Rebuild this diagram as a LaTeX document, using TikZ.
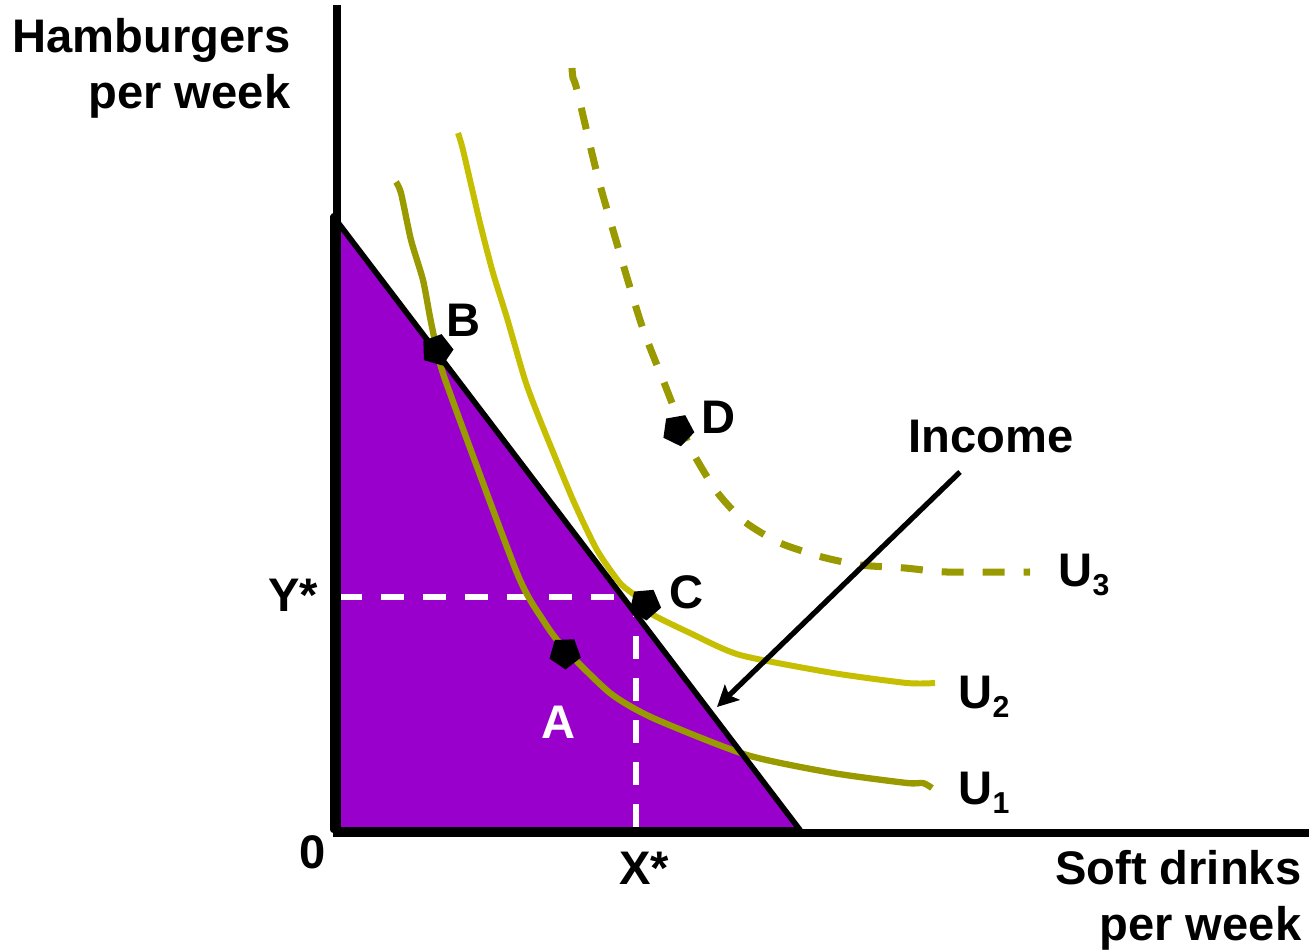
\documentclass[tikz,border=0pt]{standalone}
\usepackage{fontspec}
\setmainfont{Liberation Sans}
\usetikzlibrary{shapes.geometric,arrows.meta}
\definecolor{budgetPurple}{RGB}{153,0,204}
\definecolor{curveOlive}{RGB}{153,153,0}
\definecolor{curveYellow}{RGB}{198,190,0}
\newcommand{\ulab}[1]{U\raisebox{-2.7pt}{\fontsize{8.6}{10}\selectfont #1}}
\begin{document}
\begin{tikzpicture}[x=0.01cm, y=-0.01cm, line join=round, every node/.style={font=\bfseries\fontsize{13.4}{16}\selectfont, inner sep=0pt}, bundlept/.style={regular polygon, regular polygon sides=5, fill=black, minimum size=0.33cm, inner sep=0pt}, whitedash/.style={white, line width=1.5pt, dash pattern=on 0.23cm off 0.19cm}]

	\useasboundingbox (0,0) rectangle (1309,951);

	% budget set
	\coordinate (bTop) at (333,216);
	\coordinate (bEnd) at (800,830);
	\coordinate (bO) at (333,830);
	\fill[budgetPurple] (bTop) -- (bEnd) -- (bO) -- cycle;

	% optimum guides
	\coordinate (yS) at (339,597);
	\coordinate (cS) at (636,597);
	\coordinate (xS) at (636,830);
	\draw[whitedash] (yS) -- (cS) -- (xS);

	% indifference curves
	\draw[curveOlive, line width=1.8pt] plot[smooth, tension=0.4] coordinates {(396,182) (401,193) (411,240) (423,280) (430,317) (437,350) (447,385) (517,573) (543,620) (563,647) (610,693) (653,718) (747,755) (833,773) (907,783) (923,783) (932,788)};

	\draw[curveYellow, line width=1.7pt] plot[smooth, tension=0.4] coordinates {(458,133) (463,150) (480,223) (493,273) (507,318) (525,380) (540,420) (573,500) (597,550) (620,583) (637,597) (650,613) (690,633) (740,655) (833,673) (907,683) (935,683)};

	\draw[curveOlive, line width=2pt, dash pattern=on 0.22cm off 0.19cm] plot[smooth, tension=0.4] coordinates {(572,68) (573,78) (577,90) (600,185) (640,320) (665,385) (690,447) (717,492) (745,522) (780,543) (822,557) (860,565) (905,568) (947,572) (1030,572)};

	% budget line and axes
	\draw[line width=1.6pt] (bTop) -- (bEnd) -- (bO) -- cycle;
	\coordinate (yTop) at (337,5);
	\coordinate (O) at (337,833);
	\coordinate (xEnd) at (1309,833);
	\draw[line width=2pt, line join=miter] (yTop) -- (O) -- (xEnd);

	% income arrow
	\node[anchor=base west] (income) at (908,452) {Income};
	\coordinate (incTail) at (960,472);
	\coordinate (incHead) at (717,707);
	\draw[-{Stealth[length=6pt, width=6pt, inset=1.2pt]}, line width=1.5pt] (incTail) -- (incHead);

	% bundles
	\node[bundlept, rotate=200] (pB) at (437,350) {};
	\node[bundlept, rotate=185] (pC) at (645,604) {};
	\node[bundlept, rotate=190] (pD) at (678,430) {};
	\node[bundlept, rotate=182] (pA) at (565,653) {};

	\node[anchor=base west] (lB) at (446,336) {B};
	\node[anchor=base west] (lC) at (669,608) {C};
	\node[anchor=base west] (lD) at (701,433) {D};
	\node[anchor=base west, text=white] (lA) at (541,738) {A};

	% curve labels
	\node[anchor=base west] (lU3) at (1058,586) {\ulab{3}};
	\node[anchor=base west] (lU2) at (958,708) {\ulab{2}};
	\node[anchor=base west] (lU1) at (958,804) {\ulab{1}};

	% axis labels
	\node[anchor=base east] (yLab1) at (291,52) {Hamburgers};
	\node[anchor=base east] (yLab2) at (291,108) {per week};
	\node[anchor=base east] (xLab1) at (1302,884) {Soft drinks};
	\node[anchor=base east] (xLab2) at (1302,940) {per week};
	\node[anchor=base] (zero) at (313,868) {0};
	\node[anchor=base] (xStar) at (644,884) {X*};
	\node[anchor=base] (yStar) at (293,611) {Y*};

\end{tikzpicture}
\end{document}
